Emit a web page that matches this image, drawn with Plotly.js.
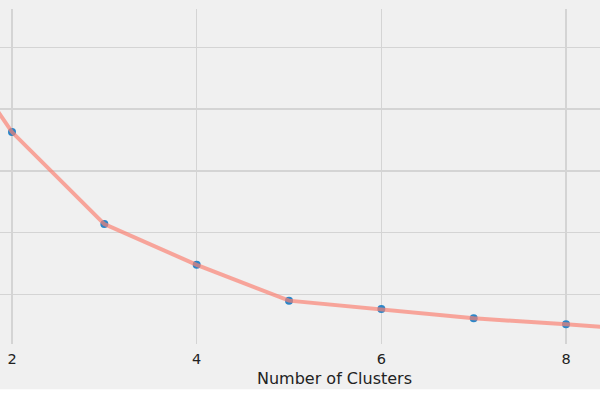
<!DOCTYPE html>
<html>
<head>
<meta charset="utf-8">
<script src="https://cdn.plot.ly/plotly-3.0.1.min.js"></script>
<style>html,body{margin:0;padding:0;background:#fff;}#chart{width:600px;height:400px;}</style>
</head>
<body>
<div id="chart"></div>
<script>
// Elbow data (arbitrary units)
var clusters = [1, 2, 3, 4, 5, 6, 7, 8, 9];
var inertia = [582, 363, 214, 148, 90, 76.5, 61.5, 51.7, 41.2];
var xTicks = [2, 4, 6, 8];
var yGrid = [100, 200, 300, 400, 500];

var traces = [
  {
    x: clusters, y: inertia, type: 'scatter', mode: 'markers',
    marker: {color: '#2b86c8', size: 8},
    hoverinfo: 'skip', showlegend: false
  },
  {
    x: clusters, y: inertia, type: 'scatter', mode: 'lines',
    line: {color: 'rgba(250,128,114,0.68)', width: 4},
    showlegend: false
  }
];

var layout = {
  width: 600, height: 400,
  margin: {l: 0, r: 0, t: 9, b: 56},
  paper_bgcolor: '#f0f0f0',
  plot_bgcolor: '#f0f0f0',
  font: {family: 'DejaVu Sans', color: '#222'},
  xaxis: {
    range: [1.87, 8.368],
    tickvals: xTicks,
    ticktext: xTicks.map(String),
    showgrid: true, gridcolor: '#d4d4d4', gridwidth: 1.5,
    zeroline: false, showline: false,
    ticks: '', ticklabelstandoff: 4,
    tickfont: {size: 14.5, color: '#222'}
  },
  yaxis: {
    range: [19.8, 562.3],
    tickvals: yGrid,
    showticklabels: false,
    showgrid: true, gridcolor: '#d4d4d4', gridwidth: 1.5,
    zeroline: false, showline: false, ticks: ''
  },
  annotations: [{
    text: 'Number of Clusters', xref: 'paper', yref: 'paper',
    x: 0.558, y: -0.068, xanchor: 'center', yanchor: 'top',
    showarrow: false, font: {size: 16, color: '#222', family: 'DejaVu Sans'}
  }],
  shapes: [{
    type: 'rect', xref: 'paper', yref: 'paper',
    x0: -0.01, x1: 1.01, y0: -0.135, y1: -0.2,
    fillcolor: '#ffffff', line: {width: 0}, layer: 'below'
  }]
};

Plotly.newPlot('chart', traces, layout, {displayModeBar: false, staticPlot: true});
</script>
</body>
</html>
